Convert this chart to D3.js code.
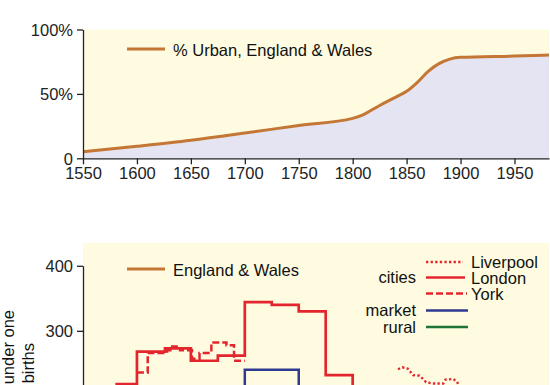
<!DOCTYPE html>
<meta charset="utf-8">
<style>
body { margin: 0; background: #fff; }
svg { display: block; font-family: "Liberation Sans", Arial, sans-serif; }
.axis text { font-size: 16.5px; fill: #222; font-family: "Liberation Sans", Arial, sans-serif; }
.axis path, .axis line { stroke: #222; stroke-width: 1.3; }
.leg { font-size: 16.5px; fill: #111; }
</style>
<body>
<svg width="550" height="385"></svg>
<script src="https://cdn.jsdelivr.net/npm/d3@7"></script>
<script>

// top panel: % urban, England & Wales
var urbanYears  = [1550, 1600, 1650, 1700, 1750, 1800, 1810, 1825, 1840, 1850, 1860, 1870, 1880, 1890, 1900, 1950, 1982];
var urbanValues = [5, 9.3, 14, 19.6, 25.5, 31, 34, 41, 47.5, 52, 59, 67.5, 73.5, 77, 78.4, 79.4, 80.2];
var yearTicks = [1550, 1600, 1650, 1700, 1750, 1800, 1850, 1900, 1950];
var pctTicks = [0, 50, 100];
var pctLabels = ["0", "50%", "100%"];

// bottom panel: infant deaths per 1000 births (step series)
var londonYears  = [1580, 1600, 1626, 1650, 1675, 1700, 1725, 1750, 1775, 1800, 1825];
var londonValues = [218, 268, 273, 254, 262, 344, 340, 330, 232, 180, 180];
var yorkYears  = [1600, 1610, 1628, 1631, 1640, 1651, 1658, 1669, 1683, 1690, 1700];
var yorkValues = [236, 266, 270, 276, 270, 257, 266, 282, 278, 254, 254];
var marketYears  = [1650, 1700, 1750, 1800];
var marketValues = [170, 240, 160, 160];
var liverpoolYears  = [1842, 1846, 1851, 1856, 1862, 1866, 1868, 1875, 1884, 1886, 1893, 1897, 1900];
var liverpoolValues = [241, 244, 242, 232, 231, 225, 221, 219, 219, 225, 226, 222, 200];
var deathTicks = [0, 100, 200, 300, 400];

var yellow = "#fefbe0", lavender = "#e5e4f2", brown = "#c47735",
    red = "#e3262d", blue = "#2e3a92", green = "#1d7535";

var svg = d3.select("svg");

var x = d3.scaleLinear().domain([1550, 1982]).range([83, 549]);

// ---------- top panel ----------
var yTop = d3.scaleLinear().domain([0, 100]).range([158.3, 29.5]);
var urban = urbanYears.map(function(d, i) { return {year: d, v: urbanValues[i]}; });

svg.append("rect")
    .attr("x", x(1550)).attr("y", yTop(100))
    .attr("width", x(1982) - x(1550)).attr("height", yTop(0) - yTop(100))
    .attr("fill", yellow);

svg.append("path")
    .datum(urban)
    .attr("fill", lavender)
    .attr("d", d3.area().curve(d3.curveMonotoneX)
        .x(function(d) { return x(d.year); })
        .y0(yTop(0))
        .y1(function(d) { return yTop(d.v); }));

svg.append("path")
    .datum(urban)
    .attr("fill", "none")
    .attr("stroke", brown)
    .attr("stroke-width", 3)
    .attr("d", d3.line().curve(d3.curveMonotoneX)
        .x(function(d) { return x(d.year); })
        .y(function(d) { return yTop(d.v); }));

svg.append("g")
    .attr("class", "axis")
    .attr("transform", "translate(0," + yTop(0) + ")")
    .call(d3.axisBottom(x).tickValues(yearTicks).tickFormat(d3.format("d")).tickSize(6).tickSizeOuter(0).tickPadding(3));

svg.append("g")
    .attr("class", "axis")
    .attr("transform", "translate(" + x(1550) + ",0)")
    .call(d3.axisLeft(yTop).tickValues(pctTicks).tickFormat(function(d, i) { return pctLabels[i]; }).tickSize(6).tickSizeOuter(0).tickPadding(4))
    .selectAll("text").attr("dy", "0.36em");

svg.append("line").attr("x1", 127).attr("x2", 165).attr("y1", 49).attr("y2", 49)
    .attr("stroke", brown).attr("stroke-width", 3);
svg.append("text").attr("class", "leg").attr("x", 173).attr("y", 55.5).text("% Urban, England & Wales");

// ---------- bottom panel ----------
var yBot = d3.scaleLinear().domain([0, 435]).range([526, 243]);

svg.append("rect")
    .attr("x", x(1550)).attr("y", yBot(435))
    .attr("width", x(1982) - x(1550)).attr("height", yBot(0) - yBot(435))
    .attr("fill", yellow);

function pts(years, vals) {
  return years.map(function(d, i) { return {year: d, v: vals[i]}; });
}
var stepLine = d3.line().curve(d3.curveStepAfter)
    .x(function(d) { return x(d.year); })
    .y(function(d) { return yBot(d.v); });
var plainLine = d3.line()
    .x(function(d) { return x(d.year); })
    .y(function(d) { return yBot(d.v); });

svg.append("path").datum(pts(marketYears, marketValues))
    .attr("fill", "none").attr("stroke", blue).attr("stroke-width", 2.5).attr("d", stepLine);
svg.append("path").datum(pts(yorkYears, yorkValues))
    .attr("fill", "none").attr("stroke", red).attr("stroke-width", 2.5)
    .attr("stroke-dasharray", "7,3").attr("d", stepLine);
svg.append("path").datum(pts(londonYears, londonValues))
    .attr("fill", "none").attr("stroke", red).attr("stroke-width", 2.7).attr("d", stepLine);
svg.append("path").datum(pts(liverpoolYears, liverpoolValues))
    .attr("fill", "none").attr("stroke", red).attr("stroke-width", 2.3)
    .attr("stroke-dasharray", "2.3,2.3").attr("d", plainLine);

var yAxisScale = d3.scaleLinear().domain([0, 400]).range([yBot(0), yBot(400)]);
svg.append("g")
    .attr("class", "axis")
    .attr("transform", "translate(" + x(1550) + ",0)")
    .call(d3.axisLeft(yAxisScale).tickValues(deathTicks).tickSize(6).tickSizeOuter(0).tickPadding(4));

// y title (two lines, rotated)
svg.append("text").attr("class", "leg")
    .attr("transform", "translate(14,310) rotate(-90)")
    .attr("text-anchor", "end").text("Deaths under one");
svg.append("text").attr("class", "leg")
    .attr("transform", "translate(34,343) rotate(-90)")
    .attr("text-anchor", "end").text("per 1000 births");

// legends
svg.append("line").attr("x1", 127).attr("x2", 165).attr("y1", 269).attr("y2", 269)
    .attr("stroke", brown).attr("stroke-width", 3);
svg.append("text").attr("class", "leg").attr("x", 173).attr("y", 276).text("England & Wales");

var legItems = [
  {y: 262, dash: "2.3,2.3", color: red, label: "Liverpool", x2: 463},
  {y: 277.5, dash: null, color: red, label: "London", x2: 465},
  {y: 293.5, dash: "7,3", color: red, label: "York", x2: 467},
  {y: 310.5, dash: null, color: blue, label: null, x2: 468},
  {y: 327, dash: null, color: green, label: null, x2: 468}
];
legItems.forEach(function(d) {
  svg.append("line").attr("x1", 426).attr("x2", d.x2).attr("y1", d.y).attr("y2", d.y)
      .attr("stroke", d.color).attr("stroke-width", 2.7)
      .attr("stroke-dasharray", d.dash);
  if (d.label) svg.append("text").attr("class", "leg").attr("x", 471).attr("y", d.y + 6).text(d.label);
});
svg.append("text").attr("class", "leg").attr("x", 416).attr("y", 283).attr("text-anchor", "end").text("cities");
svg.append("text").attr("class", "leg").attr("x", 416).attr("y", 316).attr("text-anchor", "end").text("market");
svg.append("text").attr("class", "leg").attr("x", 416).attr("y", 332.5).attr("text-anchor", "end").text("rural");

</script>
</body>
